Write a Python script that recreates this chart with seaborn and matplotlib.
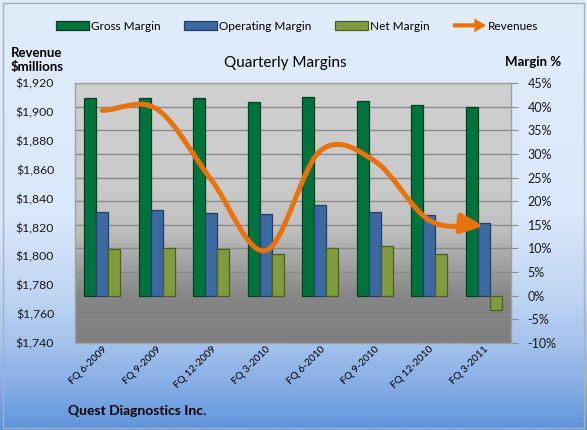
import numpy as np
import pandas as pd
import matplotlib
matplotlib.use("Agg")
import matplotlib.pyplot as plt
import seaborn as sns
from matplotlib.path import Path
from matplotlib.patches import FancyArrowPatch, Patch, FancyArrow, Rectangle
from matplotlib.legend_handler import HandlerPatch
from matplotlib.colors import LinearSegmentedColormap

# ---------------- data ----------------
quarters = ["FQ 6-2009", "FQ 9-2009", "FQ 12-2009", "FQ 3-2010",
            "FQ 6-2010", "FQ 9-2010", "FQ 12-2010", "FQ 3-2011"]
gross_margin = [41.9, 41.9, 41.8, 40.9, 42.1, 41.1, 40.4, 40.0]
operating_margin = [17.8, 18.1, 17.6, 17.2, 19.1, 17.8, 17.0, 15.3]
net_margin = [9.8, 10.0, 9.8, 8.9, 10.2, 10.5, 8.9, -3.0]
revenues = [1901, 1902, 1853, 1804, 1873, 1866, 1825, 1821]
series_names = ["Gross Margin", "Operating Margin", "Net Margin"]
rev_ticks = list(range(1740, 1921, 20))
margin_ticks = list(range(-10, 46, 5))

# ---------------- style ----------------
FONT = ["Lato", "DejaVu Sans"]
plt.rcParams["font.family"] = FONT
W, H = 587, 430
face_colors = ["#00733d", "#3b69a0", "#7f9b3e"]
edge_colors = ["#003f1f", "#223f66", "#4b5f22"]
ORANGE = "#e8720c"

fig = plt.figure(figsize=(W / 100, H / 100), dpi=100)

# figure background gradient
bg = fig.add_axes([0, 0, 1, 1], zorder=-10)
bg_cmap = LinearSegmentedColormap.from_list(
    "bg", [(0.0, "#e1ecfb"), (0.5, "#dbe7fa"), (0.7, "#bdd4f2"),
           (0.8, "#a4c2ec"), (0.9, "#85ade5"), (1.0, "#5e94db")])
bg.imshow(np.linspace(0, 1, 512).reshape(-1, 1), aspect="auto", cmap=bg_cmap,
          extent=(0, 1, 1, 0))
bg.set_xlim(0, 1); bg.set_ylim(1, 0)
bg.axis("off")
bg.add_patch(Rectangle((2.5 / W, 2.5 / H), 1 - 5.5 / W, 1 - 5.5 / H,
                       fill=False, ec="#a8b0bc", lw=1.0, transform=bg.transAxes))

# plot area
x0, x1, ytop, ybot = 75, 511, 83, 343
ax = fig.add_axes([x0 / W, 1 - ybot / H, (x1 - x0) / W, (ybot - ytop) / H])
plot_cmap = LinearSegmentedColormap.from_list(
    "pa", [(0.0, "#7f7f7f"), (0.18, "#868686"), (0.33, "#a8a8a8"),
           (0.44, "#c0c0c0"), (0.6, "#cacaca"), (1.0, "#d0d0d0")])
ax.imshow(np.linspace(0, 1, 256).reshape(-1, 1), origin="lower", aspect="auto",
          cmap=plot_cmap, extent=(-0.5, 7.5, -10, 45), zorder=0)

df = pd.DataFrame({
    "Quarter": quarters * 3,
    "Series": sum([[s] * len(quarters) for s in series_names], []),
    "Margin": gross_margin + operating_margin + net_margin,
})
sns.barplot(data=df, x="Quarter", y="Margin", hue="Series", hue_order=series_names,
            palette=face_colors, saturation=1, width=0.66, ax=ax, legend=False,
            zorder=2)
for cont, ec in zip(ax.containers, edge_colors):
    for bar in cont:
        bar.set_edgecolor(ec)
        bar.set_linewidth(0.9)

ax.set_xlim(-0.5, 7.5)
ax.set_ylim(-10, 45)
ax.set_axisbelow(True)
ax.yaxis.grid(True, color="#8a8a8a", lw=1.0, zorder=1)
ax.set_xlabel(""); ax.set_ylabel("")
ax.set_xticks(range(len(quarters)))
ax.set_xticklabels(quarters, rotation=45, ha="right", rotation_mode="anchor",
                   fontsize=7.3)
ax.tick_params(axis="x", length=0, pad=1)
for sp in ax.spines.values():
    sp.set_color("#a0a0a0"); sp.set_linewidth(1.0)

# revenue axis (left)
ax2 = ax.twinx()
ax2.yaxis.tick_left()
ax2.set_ylim(1740, 1920)
ax2.set_yticks(rev_ticks)
ax2.set_yticklabels([f"${v:,}" for v in rev_ticks])
ax2.tick_params(axis="y", length=0, pad=15, labelsize=8.8, labelcolor="#1a1a1a")
for sp in ax2.spines.values():
    sp.set_visible(False)

# margin axis (right) -- set after twinx, which resets tick sides
ax.yaxis.tick_right()
ax.set_yticks(margin_ticks)
ax.set_yticklabels([f"{v}%" for v in margin_ticks])
ax.tick_params(axis="y", left=False, labelleft=False, right=True, labelright=True,
               length=5, width=0.8, color="#8c8c8c", pad=7, labelsize=9,
               labelcolor="#1a1a1a")

# smooth (Catmull-Rom) revenue path through the data points
pts = np.column_stack([np.arange(len(revenues), dtype=float), np.array(revenues, float)])
n = len(pts)
tang = np.zeros_like(pts)
tang[1:-1] = (pts[2:] - pts[:-2]) / 2
tang[0] = pts[1] - pts[0]
tang[-1] = pts[-1] - pts[-2]
verts = [pts[0]]
codes = [Path.MOVETO]
for i in range(n - 1):
    verts += [pts[i] + tang[i] / 3, pts[i + 1] - tang[i + 1] / 3, pts[i + 1]]
    codes += [Path.CURVE4] * 3
rev_path = Path(np.array(verts), codes)
arrow = FancyArrowPatch(path=rev_path, arrowstyle="-|>,head_length=1.35,head_width=0.6",
                        mutation_scale=10, color=ORANGE, lw=3.6,
                        capstyle="round", joinstyle="round", zorder=5)
ax2.add_patch(arrow)

# ---------------- legend ----------------
class ArrowHandler(HandlerPatch):
    def create_artists(self, legend, orig_handle, xdescent, ydescent, width,
                       height, fontsize, trans):
        a = FancyArrow(-xdescent, height / 2 - ydescent, width, 0,
                       width=height * 0.5, head_width=height * 1.7,
                       head_length=height * 1.4, length_includes_head=True,
                       color=ORANGE, lw=0)
        a.set_transform(trans)
        return [a]

handles = [Patch(facecolor=fc, edgecolor=ec, lw=0.9) for fc, ec in zip(face_colors, edge_colors)]
rev_handle = Patch(color=ORANGE)
handles.append(rev_handle)
fig.legend(handles=handles, labels=series_names + ["Revenues"],
           handler_map={rev_handle: ArrowHandler()},
           loc="center", bbox_to_anchor=(297 / W, 1 - 26 / H), ncol=4,
           frameon=False, fontsize=8.5, handlelength=2.8, handleheight=0.7,
           handletextpad=0.15, columnspacing=2.0)

# ---------------- texts ----------------
fig.text(37 / W, 1 - 60 / H, "Revenue\n$millions", ha="center", va="center",
         fontsize=9.5, fontweight="bold", linespacing=1.25)
fig.text(285 / W, 1 - 63 / H, "Quarterly Margins", ha="center", va="center",
         fontsize=11)
fig.text(533 / W, 1 - 62 / H, "Margin %", ha="center", va="center",
         fontsize=9.5, fontweight="bold")
fig.text(68 / W, 1 - 411 / H, "Quest Diagnostics Inc.", ha="left", va="center",
         fontsize=10, fontweight="bold")

fig.savefig("out.png", dpi=100)
